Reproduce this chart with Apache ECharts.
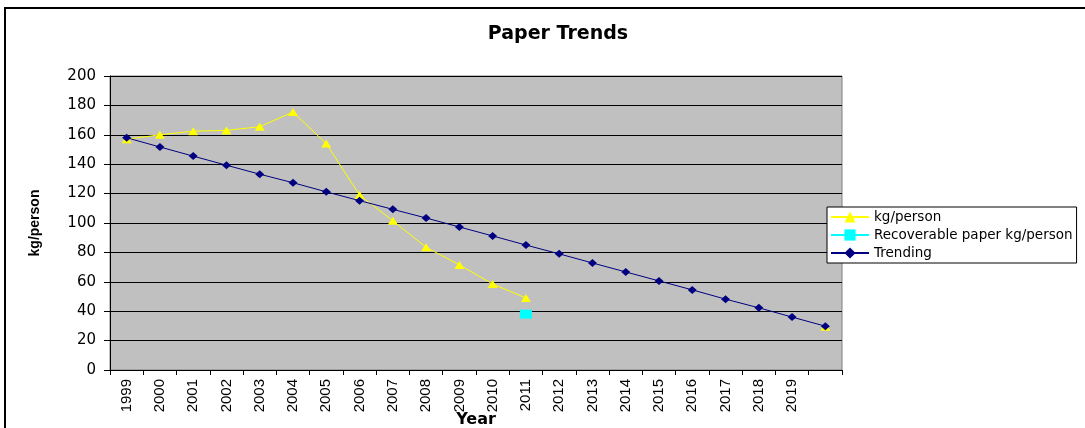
<!DOCTYPE html>
<html>
<head>
<meta charset="utf-8">
<title>Paper Trends</title>
<script src="https://cdn.jsdelivr.net/npm/echarts@6/dist/echarts.min.js"></script>
<style>
  html, body { margin: 0; padding: 0; background: #fff; }
  #chart { width: 1085px; height: 428px; }
</style>
</head>
<body>
<div id="chart"></div>
<script>
// Years on the category axis; the final slot carries no label
const years = ['1999','2000','2001','2002','2003','2004','2005','2006','2007','2008','2009',
               '2010','2011','2012','2013','2014','2015','2016','2017','2018','2019',''];

// Paper consumption, kg per person
const kgPerPerson = [157, 160, 162.5, 163, 165.5, 175.5, 154, 119, 101.5, 83.5, 71.5, 58.5, 49,
                     null, null, null, null, null, null, null, null, 29.5];

// Recoverable paper, kg per person (single reading in 2011)
const recoverable = [null, null, null, null, null, null, null, null, null, null, null, null, 38,
                     null, null, null, null, null, null, null, null, null];

// Linear trend line
const trending = [158, 151.7, 145.5, 139.3, 133.2, 127.4, 121.2, 115.2, 109.3, 103.4, 97.3, 91.2,
                  85, 79, 72.8, 66.7, 60.6, 54.5, 48.2, 42.3, 36, 29.8];

const yTicks = { min: 0, max: 200, step: 20 };

const chart = echarts.init(document.getElementById('chart'), null, { renderer: 'canvas' });

chart.setOption({
  animation: false,
  backgroundColor: '#ffffff',
  title: {
    text: 'Paper Trends',
    left: 553,
    top: 20,
    textAlign: 'center',
    textStyle: { fontFamily: 'DejaVu Sans', fontWeight: 'bold', fontSize: 19, color: '#000' }
  },
  graphic: [{
    type: 'rect',
    silent: true,
    z: -1,
    shape: { x: 5, y: 8, width: 1100, height: 440 },
    style: { fill: null, stroke: '#000', lineWidth: 2 }
  }],
  legend: {
    orient: 'vertical',
    left: 827,
    top: 207,
    padding: [3, 4, 3, 3],
    itemWidth: 38,
    itemHeight: 14,
    itemGap: 4,
    backgroundColor: '#fff',
    borderColor: '#000',
    borderWidth: 1,
    borderRadius: 0,
    textStyle: { fontFamily: 'DejaVu Sans', fontSize: 13.5, color: '#000' },
    data: ['kg/person', 'Recoverable paper kg/person', 'Trending']
  },
  grid: {
    left: 110,
    top: 76,
    right: 243,
    bottom: 58,
    show: true,
    backgroundColor: '#C0C0C0',
    borderColor: '#808080',
    borderWidth: 1,
    containLabel: false,
    outerBoundsMode: 'none'
  },
  xAxis: {
    type: 'category',
    data: years,
    boundaryGap: true,
    name: 'Year',
    nameLocation: 'middle',
    nameGap: 42,
    nameMoveOverlap: false,
    nameTextStyle: { fontFamily: 'DejaVu Sans', fontWeight: 'bold', fontSize: 16, color: '#000' },
    axisLine: { show: true, lineStyle: { color: '#000', width: 1 } },
    axisTick: { show: true, length: 5, lineStyle: { color: '#000' } },
    axisLabel: {
      rotate: 90,
      margin: 9,
      interval: 0,
      fontFamily: 'Liberation Sans',
      fontSize: 15,
      color: '#000'
    },
    splitLine: { show: false }
  },
  yAxis: {
    type: 'value',
    min: yTicks.min,
    max: yTicks.max,
    interval: yTicks.step,
    name: 'kg/person',
    nameLocation: 'middle',
    nameGap: 68,
    nameRotate: 90,
    nameMoveOverlap: false,
    nameTextStyle: { fontFamily: 'Liberation Sans', fontWeight: 'bold', fontSize: 14, color: '#000' },
    axisLine: { show: true, lineStyle: { color: '#000', width: 1 } },
    axisTick: { show: true, length: 6, lineStyle: { color: '#000' } },
    axisLabel: { margin: 14, fontFamily: 'DejaVu Sans', fontSize: 15, color: '#000' },
    splitLine: { show: true, lineStyle: { color: '#000', width: 1 } }
  },
  series: [
    {
      name: 'kg/person',
      type: 'line',
      data: kgPerPerson,
      connectNulls: false,
      symbol: 'triangle',
      symbolSize: [10, 8],
      showAllSymbol: true,
      itemStyle: { color: '#FFFF00' },
      lineStyle: { color: '#FFFF00', width: 1 },
      z: 2
    },
    {
      name: 'Recoverable paper kg/person',
      type: 'line',
      data: recoverable,
      symbol: 'rect',
      symbolSize: [12, 9],
      showAllSymbol: true,
      itemStyle: { color: '#00FFFF' },
      lineStyle: { color: '#00FFFF', width: 2 },
      z: 3
    },
    {
      name: 'Trending',
      type: 'line',
      data: trending,
      symbol: 'diamond',
      symbolSize: [9, 8],
      showAllSymbol: true,
      itemStyle: { color: '#000080' },
      lineStyle: { color: '#000080', width: 1 },
      z: 4
    }
  ]
});
</script>
</body>
</html>
